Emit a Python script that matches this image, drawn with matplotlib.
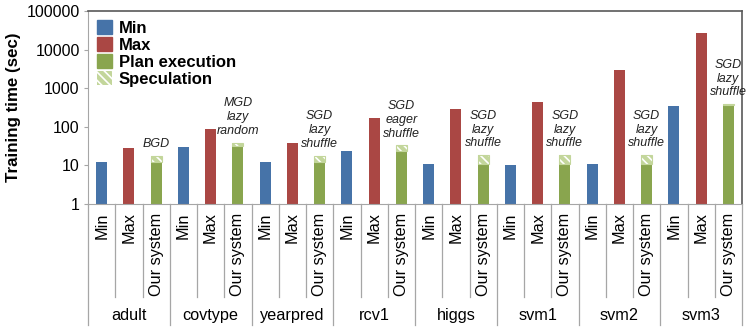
import matplotlib
matplotlib.use('Agg')
import matplotlib.pyplot as plt
import matplotlib.patches as mpatches
import numpy as np

plt.rcParams['font.family'] = ['Liberation Sans', 'DejaVu Sans']
plt.rcParams['hatch.color'] = 'white'
plt.rcParams['hatch.linewidth'] = 1.2

# data
datasets = ['adult', 'covtype', 'yearpred', 'rcv1', 'higgs', 'svm1', 'svm2', 'svm3']
sub_labels = ['Min', 'Max', 'Our system']
min_time = [12, 30, 12, 24, 10.7, 10.2, 10.7, 350]
max_time = [29, 86, 37, 166, 283, 430, 2900, 27500]
plan_time = [12, 32, 12, 23, 11, 11, 11, 370]
total_time = [18, 39, 18, 33, 18.6, 18.6, 18.6, 392]
plan_notes = ['BGD', 'MGD\nlazy\nrandom', 'SGD\nlazy\nshuffle', 'SGD\neager\nshuffle',
              'SGD\nlazy\nshuffle', 'SGD\nlazy\nshuffle', 'SGD\nlazy\nshuffle',
              'SGD\nlazy\nshuffle']

c_min = '#4673A8'
c_max = '#AA4744'
c_plan = '#89A54E'
c_spec = '#C3D69B'
grey = '#A6A6A6'

n = len(datasets)
x_min = np.arange(n) * 3
x_max = x_min + 1
x_our = x_min + 2
spec_time = np.array(total_time) - np.array(plan_time)

fig = plt.figure(figsize=(7.48, 3.34), dpi=100)
ax = fig.add_axes([88 / 748, 130 / 334, 654 / 748, 193 / 334])

w = 0.4
ax.bar(x_min, np.array(min_time) - 1, w, bottom=1, color=c_min)
ax.bar(x_max, np.array(max_time) - 1, w, bottom=1, color=c_max)
ax.bar(x_our, np.array(plan_time) - 1, w, bottom=1, color=c_plan)
ax.bar(x_our, spec_time, w, bottom=plan_time, color=c_spec, hatch='\\\\\\\\', linewidth=0)
ax.bar(x_our, spec_time, w, bottom=plan_time, fill=False, edgecolor=c_spec, linewidth=0.8)

for xo, top, note in zip(x_our, total_time, plan_notes):
    ax.annotate(note, (xo, top), xytext=(0, 4), textcoords='offset points',
                ha='center', va='bottom', fontsize=9, style='italic',
                color='#222222', linespacing=1.2)

ax.set_yscale('log')
ax.set_ylim(1, 100000)
ax.set_xlim(-0.5, 3 * n - 0.5)
ax.set_yticks([1, 10, 100, 1000, 10000, 100000])
ax.set_yticklabels(['1', '10', '100', '1000', '10000', '100000'])
ax.minorticks_off()
ax.tick_params(axis='y', labelsize=11.5, length=3, color=grey, pad=3)

ax.set_xticks(np.arange(3 * n))
ax.set_xticklabels(sub_labels * n, rotation=90, fontsize=11.7)
ax.tick_params(axis='x', length=0, pad=6)

for s in ['left', 'bottom']:
    ax.spines[s].set_color(grey)
for s in ['top', 'right']:
    ax.spines[s].set_color('#595959')
    ax.spines[s].set_linewidth(1.2)

ax.set_ylabel('Training time (sec)', fontsize=12.2, fontweight='bold', labelpad=4)

# category separators below the axis
tr = ax.get_xaxis_transform()
for k in range(3 * n + 1):
    xs = k - 0.5
    y_end = -0.627 if k % 3 == 0 else -0.482
    ax.plot([xs, xs], [0, y_end], color=grey, lw=0.9, transform=tr, clip_on=False)
for i, name in enumerate(datasets):
    ax.text(x_max[i], -0.58, name, transform=tr, ha='center', va='center', fontsize=11.7)

handles = [mpatches.Patch(color=c_min, label='Min'),
           mpatches.Patch(color=c_max, label='Max'),
           mpatches.Patch(color=c_plan, label='Plan execution'),
           mpatches.Patch(facecolor=c_spec, hatch='\\\\\\\\', linewidth=0, label='Speculation')]
ax.legend(handles=handles, loc='upper left', bbox_to_anchor=(0.0, 1.0), frameon=False,
          prop={'weight': 'bold', 'size': 12}, handlelength=0.9, handleheight=0.9,
          handletextpad=0.4, labelspacing=0.08, borderaxespad=0.15)

fig.savefig('out.png', dpi=100)
